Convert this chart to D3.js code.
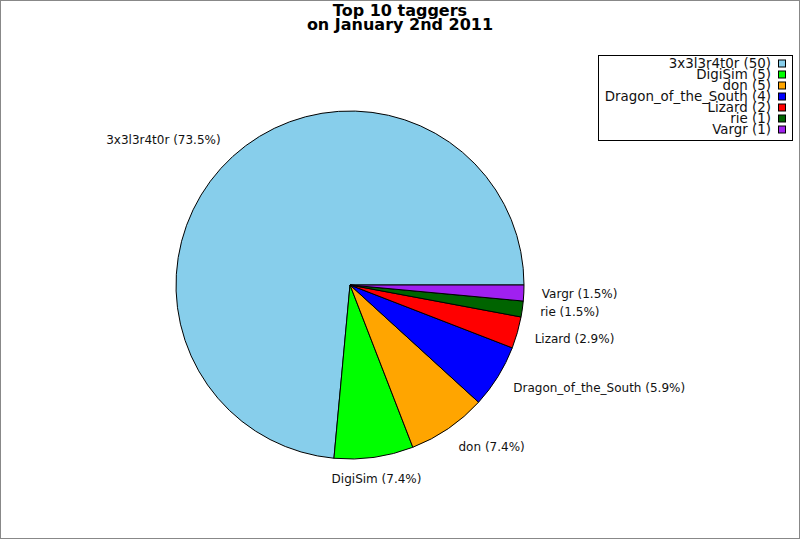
<!DOCTYPE html>
<html>
<head>
<meta charset="utf-8">
<title>Top 10 taggers</title>
<script src="https://d3js.org/d3.v7.min.js"></script>
<style>
    body{ margin:0; }
    text{ font-family: "DejaVu Sans", sans-serif; }
</style>
</head>
<body>
<svg id="chart" width="800" height="540"></svg>
<script>
    // data
    var names = ["3x3l3r4t0r", "DigiSim", "don", "Dragon_of_the_South", "Lizard", "rie", "Vargr"];
    var counts = [50, 5, 5, 4, 2, 1, 1];
    var colors = ["#87ceeb", "#00ff00", "#ffa500", "#0000ff", "#ff0000", "#006400", "#a020f0"];
    var titleLines = ["Top 10 taggers", "on January 2nd 2011"];

    var w = 800, h = 540;
    var cx = 350, cy = 285, r = 174;
    var total = d3.sum(counts);

    var svg = d3.select("#chart");

    // frame
    svg.append("rect")
        .attr("x", 0.5).attr("y", 0.5)
        .attr("width", w - 1).attr("height", h - 2)
        .attr("fill", "white").attr("stroke", "#888");

    // title
    svg.append("text")
        .attr("x", 400).attr("y", 16)
        .attr("text-anchor", "middle")
        .attr("font-size", 16).attr("font-weight", "bold")
        .selectAll("tspan").data(titleLines).enter().append("tspan")
        .attr("x", 400)
        .attr("dy", function(d, i){ return i == 0 ? 0 : 14; })
        .text(function(d){ return d; });

    // pie: starts at 3 o'clock and runs counter clockwise
    var pie = d3.pie().sort(null)
        .startAngle(Math.PI / 2)
        .endAngle(Math.PI / 2 - 2 * Math.PI);
    var arcs = pie(counts);
    var arc = d3.arc().innerRadius(0).outerRadius(r);

    var g = svg.append("g").attr("transform", "translate(" + cx + "," + cy + ")");
    g.selectAll("path").data(arcs).enter().append("path")
        .attr("d", arc)
        .attr("fill", function(d, i){ return colors[i]; })
        .attr("stroke", "black")
        .attr("stroke-width", 1);

    // labels
    var lr = 192;
    g.selectAll(".lbl").data(arcs).enter().append("text")
        .attr("class", "lbl")
        .attr("font-size", 12)
        .attr("fill", "#111")
        .attr("dominant-baseline", "central")
        .each(function(d, i){
            var a = (d.startAngle + d.endAngle) / 2;
            var x = Math.sin(a) * lr, y = -Math.cos(a) * lr;
            var anchor = x > 30 ? "start" : (x < -30 ? "end" : "middle");
            d3.select(this)
                .attr("x", x)
                .attr("y", y - Math.cos(a) * 4)
                .attr("text-anchor", anchor)
                .text(names[i] + " (" + (100 * counts[i] / total).toFixed(1) + "%)");
        });

    // legend
    var lg = svg.append("g");
    lg.append("rect")
        .attr("x", 598.5).attr("y", 55.5)
        .attr("width", 194).attr("height", 85)
        .attr("fill", "white").attr("stroke", "black");
    var rows = lg.selectAll(".row").data(names).enter().append("g")
        .attr("transform", function(d, i){ return "translate(0," + (63.5 + i * 11) + ")"; });
    rows.append("text")
        .attr("x", 771).attr("y", 0)
        .attr("text-anchor", "end")
        .attr("dominant-baseline", "central")
        .attr("font-size", 13.4)
        .attr("fill", "#111")
        .text(function(d, i){ return d + " (" + counts[i] + ")"; });
    rows.append("rect")
        .attr("x", 778.5).attr("y", -3.5)
        .attr("width", 7).attr("height", 7)
        .attr("fill", function(d, i){ return colors[i]; })
        .attr("stroke", "black");
</script>
</body>
</html>
